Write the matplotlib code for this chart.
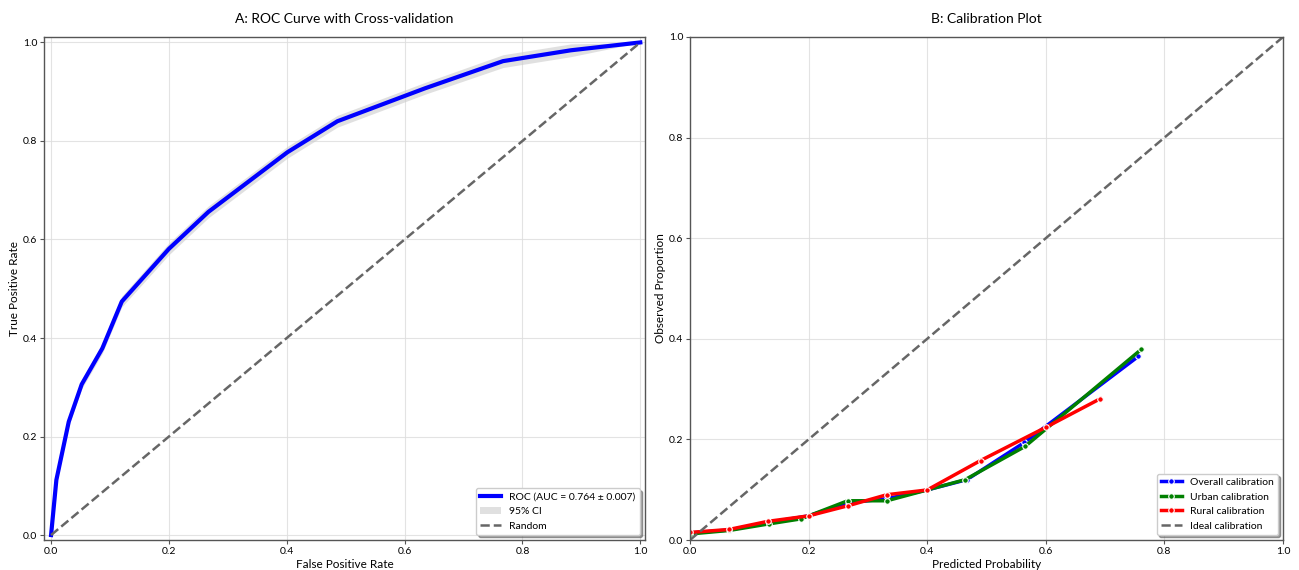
import matplotlib
matplotlib.use("Agg")
import matplotlib.pyplot as plt
import numpy as np

plt.rcParams['font.family'] = ['Lato', 'DejaVu Sans']

# ROC data
roc_fpr = [0.0, 0.009, 0.030, 0.052, 0.087, 0.120, 0.200, 0.267, 0.401, 0.486, 0.635, 0.767, 0.882, 1.0]
roc_tpr = [0.0, 0.112, 0.230, 0.306, 0.379, 0.474, 0.581, 0.656, 0.777, 0.840, 0.907, 0.962, 0.984, 1.0]
roc_ci = [0.0, 0.008, 0.008, 0.009, 0.010, 0.011, 0.012, 0.012, 0.012, 0.012, 0.012, 0.013, 0.013, 0.0]
roc_label = "ROC (AUC = 0.764 ± 0.007)"

# Calibration data
overall_x = [0.0, 0.067, 0.133, 0.200, 0.266, 0.332, 0.400, 0.467, 0.564, 0.756]
overall_y = [0.014, 0.020, 0.035, 0.048, 0.074, 0.082, 0.0995, 0.120, 0.194, 0.365]
urban_x = [0.0, 0.066, 0.133, 0.187, 0.266, 0.332, 0.400, 0.464, 0.565, 0.761]
urban_y = [0.012, 0.019, 0.032, 0.042, 0.078, 0.078, 0.0995, 0.120, 0.186, 0.379]
rural_x = [0.0, 0.066, 0.131, 0.200, 0.266, 0.332, 0.400, 0.490, 0.600, 0.692]
rural_y = [0.015, 0.021, 0.037, 0.048, 0.068, 0.090, 0.0995, 0.158, 0.224, 0.281]

fig = plt.figure(figsize=(12.99, 5.70), dpi=100)
ax1 = fig.add_axes([44/1299, 1-540/570, 601/1299, 503/570])
ax2 = fig.add_axes([690/1299, 1-540/570, 593/1299, 503/570])

spine_col = '#555555'
for ax in (ax1, ax2):
    ax.grid(True, color='#dddddd', linewidth=0.8, alpha=0.8)
    ax.set_axisbelow(True)
    for s in ax.spines.values():
        s.set_color(spine_col)
        s.set_linewidth(1.0)
    ax.tick_params(labelsize=7.5, length=3, pad=2, color=spine_col)
    ax.set_xticks([0, 0.2, 0.4, 0.6, 0.8, 1.0])
    ax.set_yticks([0, 0.2, 0.4, 0.6, 0.8, 1.0])

# Panel A
fpr = np.array(roc_fpr)
tpr = np.array(roc_tpr)
ci = np.array(roc_ci)
ax1.fill_between(fpr, np.clip(tpr - ci, 0, 1), np.clip(tpr + ci, 0, 1), color='#cccccc', alpha=0.6, label='95% CI', linewidth=0)
ax1.plot(fpr, tpr, color='blue', linewidth=3, label=roc_label)
ax1.plot([0, 1], [0, 1], linestyle='--', color='#666666', linewidth=1.8, label='Random')
ax1.set_xlim(-0.012, 1.008)
ax1.set_ylim(-0.01, 1.011)
ax1.set_xlabel('False Positive Rate', fontsize=8.5, labelpad=2)
ax1.set_ylabel('True Positive Rate', fontsize=8.5, labelpad=2)
ax1.set_title('A: ROC Curve with Cross-validation', fontsize=10, pad=10)
h, l = ax1.get_legend_handles_labels()
order = [1, 0, 2]
ax1.legend([h[i] for i in order], [l[i] for i in order], loc='lower right', fontsize=7.5,
           shadow=True, fancybox=True, framealpha=1, edgecolor='#cccccc')

# Panel B
mk = dict(marker='o', markersize=4, markeredgecolor='white', markeredgewidth=0.8, linewidth=2.5)
ax2.plot(overall_x, overall_y, color='blue', label='Overall calibration', **mk)
ax2.plot(urban_x, urban_y, color='green', label='Urban calibration', **mk)
ax2.plot(rural_x, rural_y, color='red', label='Rural calibration', **mk)
ax2.plot([0, 1], [0, 1], linestyle='--', color='#666666', linewidth=1.8, label='Ideal calibration')
ax2.set_xlim(0, 1)
ax2.set_ylim(0, 1)
ax2.set_xlabel('Predicted Probability', fontsize=8.5, labelpad=2)
ax2.set_ylabel('Observed Proportion', fontsize=8.5, labelpad=2)
ax2.set_title('B: Calibration Plot', fontsize=10, pad=10)
ax2.legend(loc='lower right', fontsize=7.5, shadow=True, fancybox=True, framealpha=1, edgecolor='#cccccc')

fig.savefig('out.png', dpi=100)
